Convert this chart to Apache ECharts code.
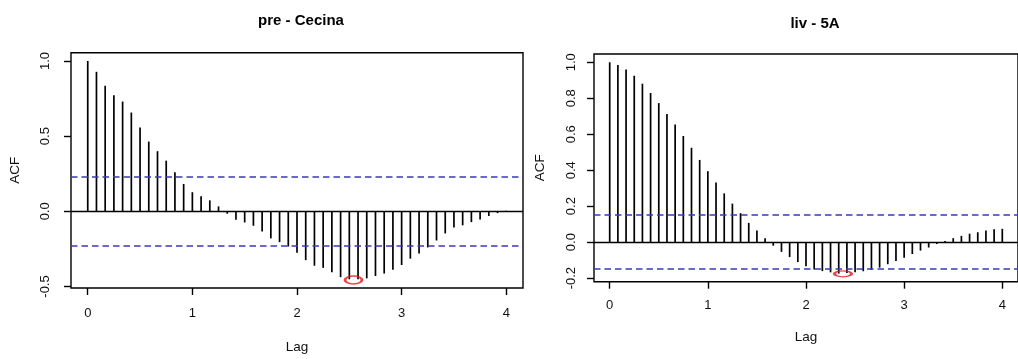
<!DOCTYPE html>
<html>
<head>
<meta charset="utf-8">
<script src="https://cdn.jsdelivr.net/npm/echarts@6/dist/echarts.min.js"></script>
<style>
html,body{margin:0;padding:0;background:#fff;}
#chart{width:1018px;height:359px;}
</style>
</head>
<body>
<div id="chart"></div>
<script>
// ---- data ----
const lagMonths = [0,1,2,3,4,5,6,7,8,9,10,11,12,13,14,15,16,17,18,19,20,21,22,23,24,
  25,26,27,28,29,30,31,32,33,34,35,36,37,38,39,40,41,42,43,44,45,46,47,48];
const monthsPerLag = 12;
const acfPreCecina = [1.000,0.928,0.835,0.772,0.730,0.657,0.558,0.464,0.400,0.337,0.260,0.182,
  0.127,0.101,0.073,0.033,-0.016,-0.056,-0.074,-0.096,-0.135,-0.180,-0.205,-0.234,
  -0.276,-0.325,-0.362,-0.376,-0.405,-0.438,-0.452,-0.452,-0.446,-0.430,-0.414,-0.388,
  -0.357,-0.315,-0.280,-0.240,-0.194,-0.147,-0.108,-0.093,-0.072,-0.054,-0.031,-0.012,0.004];
const acfLiv5A = [1.000,0.985,0.960,0.925,0.881,0.829,0.773,0.713,0.654,0.590,0.525,0.457,
  0.394,0.331,0.271,0.214,0.161,0.107,0.064,0.022,-0.020,-0.054,-0.083,-0.111,
  -0.134,-0.152,-0.161,-0.168,-0.175,-0.171,-0.168,-0.162,-0.155,-0.142,-0.123,-0.105,
  -0.087,-0.066,-0.047,-0.030,-0.011,0.006,0.022,0.035,0.047,0.055,0.065,0.072,0.074];
const ciPreCecina = 0.231;
const ciLiv5A = 0.153;
const highlightPreCecina = [2.54, -0.457];
const highlightLiv5A = [2.377, -0.176];
const titles = ['pre - Cecina', 'liv - 5A'];
const xTicks = [0, 1, 2, 3, 4];
const xTickLabels = ['0', '1', '2', '3', '4'];
const yTicksPre = [-0.5, 0, 0.5, 1.0];
const yTickLabelsPre = ['-0.5', '0.0', '0.5', '1.0'];
const yTicksLiv = [-0.2, 0, 0.2, 0.4, 0.6, 0.8, 1.0];
const yTickLabelsLiv = ['-0.2', '0.0', '0.2', '0.4', '0.6', '0.8', '1.0'];
const xAxisTitle = 'Lag';
const yAxisTitle = 'ACF';

// ---- chart ----
const FONT = '"Liberation Sans", Arial, sans-serif';
const chart = echarts.init(document.getElementById('chart'), null, {renderer: 'canvas'});

function lookup(ticks, labels) {
  return function (v) {
    for (let i = 0; i < ticks.length; i++) if (Math.abs(ticks[i] - v) < 1e-9) return labels[i];
    return '';
  };
}
function pairs(values) {
  return lagMonths.map((m, i) => [m / monthsPerLag, values[i]]);
}
function stemSeries(idx, values, ci) {
  return {
    type: 'custom', xAxisIndex: idx, yAxisIndex: idx,
    data: pairs(values),
    renderItem: function (params, api) {
      const x = api.value(0), y = api.value(1);
      const p0 = api.coord([x, 0]);
      const p1 = api.coord([x, y]);
      return {type: 'line', shape: {x1: p0[0], y1: p0[1], x2: p1[0], y2: p1[1]},
        style: {stroke: '#000', lineWidth: 1.7}};
    },
    markLine: {
      silent: true, symbol: 'none', animation: false,
      label: {show: false},
      data: [
        {yAxis: 0, lineStyle: {color: '#000', type: 'solid', width: 1.4}},
        {yAxis: ci, lineStyle: {color: '#3a3ab8', type: [6.5, 4], width: 1.6}},
        {yAxis: -ci, lineStyle: {color: '#3a3ab8', type: [6.5, 4], width: 1.6}}
      ]
    },
    z: 3
  };
}
function highlight(idx, pt, size) {
  return {
    type: 'scatter', xAxisIndex: idx, yAxisIndex: idx,
    data: [pt],
    symbol: 'path://M0,10 A10,10 0 1,0 20,10 A10,10 0 1,0 0,10 Z',
    symbolSize: size,
    itemStyle: {color: 'rgba(0,0,0,0)', borderColor: '#e01818', borderWidth: 2},
    silent: true, z: 5
  };
}
function xAxisDef(idx, min, max, margin, nameGap) {
  return {
    type: 'value', gridIndex: idx, min: min, max: max, position: 'bottom',
    name: xAxisTitle, nameLocation: 'middle', nameGap: nameGap,
    nameTextStyle: {fontFamily: FONT, fontSize: 13.5, color: '#111'},
    axisLine: {show: false, onZero: false},
    splitLine: {show: false},
    axisTick: {show: true, inside: false, length: 7, customValues: xTicks,
      lineStyle: {color: '#000', width: 1.4}},
    axisLabel: {show: true, customValues: xTicks, formatter: lookup(xTicks, xTickLabels),
      margin: margin, fontFamily: FONT, fontSize: 13, color: '#111'}
  };
}
function yAxisDef(idx, min, max, ticks, labels, margin, nameGap) {
  return {
    type: 'value', gridIndex: idx, min: min, max: max, position: 'left',
    name: yAxisTitle, nameLocation: 'middle', nameGap: nameGap, nameRotate: 90,
    nameTextStyle: {fontFamily: FONT, fontSize: 13.5, color: '#111'},
    axisLine: {show: false, onZero: false},
    splitLine: {show: false},
    axisTick: {show: true, inside: false, length: 7, customValues: ticks,
      lineStyle: {color: '#000', width: 1.4}},
    axisLabel: {show: true, customValues: ticks, formatter: lookup(ticks, labels),
      rotate: 90, margin: margin, fontFamily: FONT, fontSize: 13, color: '#111'}
  };
}

const option = {
  animation: false,
  backgroundColor: '#fff',
  title: [
    {text: titles[0], left: 296, top: 8, textAlign: 'center',
      textStyle: {fontFamily: FONT, fontSize: 15, fontWeight: 'bold', color: '#000'}},
    {text: titles[1], left: 810, top: 11, textAlign: 'center',
      textStyle: {fontFamily: FONT, fontSize: 15, fontWeight: 'bold', color: '#000'}}
  ],
  grid: [
    {left: 71, top: 52.7, width: 452, height: 236.6, show: true,
      borderColor: '#000', borderWidth: 1.4, backgroundColor: 'rgba(0,0,0,0)'},
    {left: 594, top: 54, width: 434, height: 227.7, show: true,
      borderColor: '#000', borderWidth: 1.4, backgroundColor: 'rgba(0,0,0,0)'}
  ],
  xAxis: [
    xAxisDef(0, -0.16, 4.16, 19, 52),
    xAxisDef(1, -0.16, 4.16, 17, 49)
  ],
  yAxis: [
    yAxisDef(0, -0.51, 1.055, yTicksPre, yTickLabelsPre, 19, 49),
    yAxisDef(1, -0.22, 1.046, yTicksLiv, yTickLabelsLiv, 16, 47)
  ],
  series: [
    stemSeries(0, acfPreCecina, ciPreCecina),
    stemSeries(1, acfLiv5A, ciLiv5A),
    highlight(0, highlightPreCecina, [17, 8]),
    highlight(1, highlightLiv5A, [17, 6])
  ]
};
chart.setOption(option);
</script>
</body>
</html>
